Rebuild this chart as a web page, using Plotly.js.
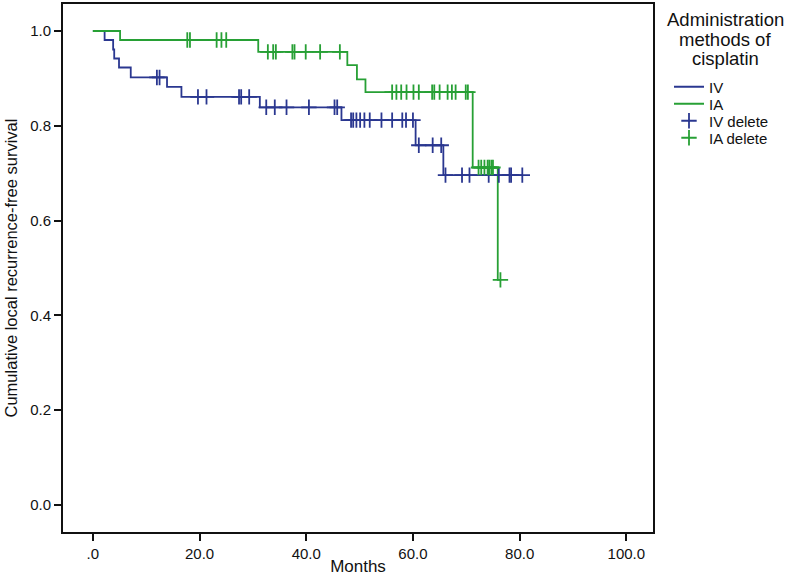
<!DOCTYPE html>
<html>
<head>
<meta charset="utf-8">
<script src="https://cdn.plot.ly/plotly-3.0.1.min.js"></script>
<style>html,body{margin:0;padding:0;background:#fff;}#chart{width:788px;height:576px;}</style>
</head>
<body>
<div id="chart"></div>
<script>
// IV group: event times (months) and survival after each event
const ivEventTimes = [2.2, 3.8, 4.0, 4.9, 7.1, 13.9, 16.6, 31.3, 46.6, 60.5, 65.7];
const ivEventSurv  = [0.981, 0.961, 0.942, 0.923, 0.902, 0.882, 0.861, 0.839, 0.812, 0.759, 0.696];
const ivCensorTimes = [12.0, 12.5, 19.7, 21.3, 27.4, 27.8, 29.3, 32.5, 34.1, 36.3, 40.5, 45.3, 45.8,
  48.4, 48.8, 49.4, 50.1, 50.9, 51.9, 54.1, 56.1, 58.0, 58.7, 60.0, 61.1, 63.7, 65.3,
  66.1, 69.2, 70.6, 74.2, 76.1, 78.1, 78.4, 80.5];

// IA group
const iaEventTimes = [5.1, 31.0, 47.7, 49.5, 51.1, 71.2, 75.9];
const iaEventSurv  = [0.981, 0.956, 0.928, 0.898, 0.871, 0.712, 0.475];
const iaCensorTimes = [17.7, 18.2, 23.2, 24.1, 25.0, 32.8, 33.8, 34.3, 37.4, 37.8, 39.9, 42.6, 46.3,
  56.1, 56.9, 57.8, 58.8, 60.1, 61.1, 63.6, 64.0, 65.0, 66.5, 67.3, 68.0, 69.9, 70.3,
  72.3, 72.8, 73.4, 74.0, 74.3, 74.7, 75.0, 76.4];

const xTickVals = [0, 20, 40, 60, 80, 100];
const xTickText = ['.0', '20.0', '40.0', '60.0', '80.0', '100.0'];
const yTickVals = [0, 0.2, 0.4, 0.6, 0.8, 1.0];
const yTickText = ['0.0', '0.2', '0.4', '0.6', '0.8', '1.0'];

const seriesNames = ['IV', 'IA', 'IV delete', 'IA delete'];
const legendTitleLines = ['Administration', 'methods of', 'cisplatin'];
const blue = '#2a3790';
const green = '#27a035';

// geometry (pixels)
const W = 788, H = 576, ML = 63, MR = 135, MT = 4, MB = 44;
const plotH = H - MT - MB, plotW = W - ML - MR;
const pyToPaper = py => (H - MB - py) / plotH;
const pxToPaper = px => (px - ML) / plotW;

function survAt(times, surv, t) {
  let s = 1;
  for (let i = 0; i < times.length; i++) { if (times[i] <= t) s = surv[i]; }
  return s;
}
function stepXY(times, surv, censors) {
  const last = Math.max(times[times.length - 1], censors[censors.length - 1]);
  const x = [0].concat(times, [last]);
  const y = [1].concat(surv, [survAt(times, surv, last)]);
  return {x, y};
}

const ivStep = stepXY(ivEventTimes, ivEventSurv, ivCensorTimes);
const iaStep = stepXY(iaEventTimes, iaEventSurv, iaCensorTimes);

const traces = [
  {x: ivStep.x, y: ivStep.y, mode: 'lines', line: {shape: 'hv', color: blue, width: 1.8},
   name: seriesNames[0], legend: 'legend'},
  {x: iaStep.x, y: iaStep.y, mode: 'lines', line: {shape: 'hv', color: green, width: 1.8},
   name: seriesNames[1], legend: 'legend2'},
  {x: ivCensorTimes, y: ivCensorTimes.map(t => survAt(ivEventTimes, ivEventSurv, t)), mode: 'markers',
   marker: {symbol: 'cross-thin-open', size: 11, color: blue, line: {color: blue, width: 1.8}},
   name: seriesNames[2], legend: 'legend3'},
  {x: iaCensorTimes, y: iaCensorTimes.map(t => survAt(iaEventTimes, iaEventSurv, t)), mode: 'markers',
   marker: {symbol: 'cross-thin-open', size: 11, color: green, line: {color: green, width: 1.8}},
   name: seriesNames[3], legend: 'legend4'}
];

const legendCenters = [87, 104, 121, 138];
function legendAt(py) {
  return {
    x: pxToPaper(669), xanchor: 'left', y: pyToPaper(py), yanchor: 'middle',
    font: {size: 15, color: '#111'}, itemwidth: 30, bgcolor: 'rgba(0,0,0,0)', borderwidth: 0
  };
}

const titleCenters = [20, 39.5, 59];
const annotations = legendTitleLines.map((t, i) => ({
  text: t, xref: 'paper', yref: 'paper', x: pxToPaper(725), y: pyToPaper(titleCenters[i]),
  xanchor: 'center', yanchor: 'middle', align: 'center', showarrow: false,
  font: {size: 18.5, color: '#111'}
}));

const layout = {
  width: W, height: H,
  margin: {l: ML, r: MR, t: MT, b: MB},
  paper_bgcolor: '#fff', plot_bgcolor: '#fff',
  font: {family: 'Liberation Sans, Arial, sans-serif', size: 14, color: '#111'},
  showlegend: true,
  legend: legendAt(legendCenters[0]),
  legend2: legendAt(legendCenters[1]),
  legend3: legendAt(legendCenters[2]),
  legend4: legendAt(legendCenters[3]),
  annotations: annotations,
  xaxis: {
    range: [-5.6, 105], tickvals: xTickVals, ticktext: xTickText,
    showgrid: false, zeroline: false, showline: true, mirror: true, linecolor: '#111', linewidth: 2,
    ticks: 'outside', ticklen: 7, tickwidth: 2, tickcolor: '#111',
    tickfont: {size: 15}, automargin: false,
    title: {text: 'Months', font: {size: 17}, standoff: 4}
  },
  yaxis: {
    range: [-0.057, 1.057], tickvals: yTickVals, ticktext: yTickText,
    showgrid: false, zeroline: false, showline: true, mirror: true, linecolor: '#111', linewidth: 2,
    ticks: 'outside', ticklen: 7, tickwidth: 2, tickcolor: '#111',
    tickfont: {size: 15}, automargin: false,
    title: {text: 'Cumulative local recurrence-free survival', font: {size: 16.5}, standoff: 8}
  }
};

Plotly.newPlot('chart', traces, layout, {displayModeBar: false, staticPlot: true});
</script>
</body>
</html>
